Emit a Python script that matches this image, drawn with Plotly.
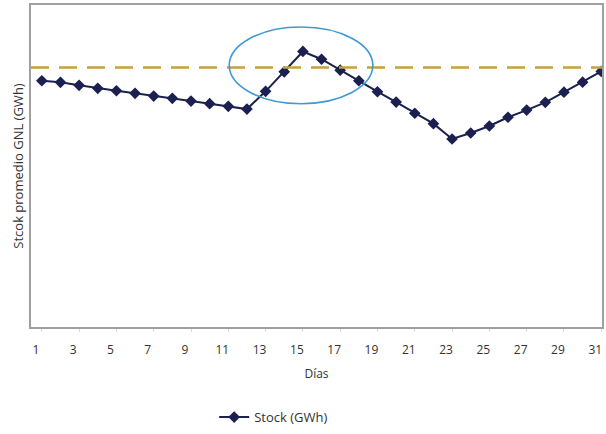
import plotly.graph_objects as go

# Daily average LNG stock over one month
dias = list(range(1, 32))
stock_gwh = [1235, 1227, 1212, 1197, 1185, 1172, 1158, 1147, 1133, 1120, 1107,
             1093, 1182, 1280, 1382, 1343, 1288, 1235, 1180, 1128, 1072, 1020,
             943, 973, 1008, 1052, 1088, 1127, 1178, 1228, 1282]
umbral_gwh = 1302
tick_dias = list(range(1, 32, 2))
tick_text = [str(d) for d in tick_dias]

# Highlighted zone around the peak
zona_x = (11.05, 18.75)
zona_y = (1120, 1505)

fig = go.Figure()
fig.add_trace(go.Scatter(
    x=dias, y=stock_gwh, mode="lines+markers", name="Stock (GWh)",
    line=dict(color="#1b2050", width=2),
    marker=dict(symbol="diamond", size=9, color="#1b2050"),
))

fig.add_shape(type="line", xref="paper", x0=0, x1=1, yref="y",
              y0=umbral_gwh, y1=umbral_gwh,
              line=dict(color="#c8a03c", width=2.5, dash="18px,10px"))
fig.add_shape(type="circle", xref="x", yref="y",
              x0=zona_x[0], x1=zona_x[1], y0=zona_y[0], y1=zona_y[1],
              line=dict(color="#3d9ad6", width=1.6))

fig.update_layout(
    width=606, height=434,
    margin=dict(l=31, r=2, t=5, b=106),
    paper_bgcolor="white", plot_bgcolor="white",
    font=dict(family="Open Sans", size=12, color="#333"),
    showlegend=True,
    legend=dict(orientation="h", x=0.425, xanchor="center", y=-0.28,
                yanchor="middle", font=dict(size=13)),
    xaxis=dict(range=[0.42, 31.04], tickmode="array", tickvals=tick_dias,
               ticktext=tick_text, showgrid=False, zeroline=False,
               showline=True, linecolor="#a0a0a0", mirror=True, linewidth=1.5,
               ticks="outside", ticklen=3, tickcolor="#d8d8d8",
               ticklabelshift=-6, ticklabelstandoff=8,
               ticklabeloverflow="allow",
               title=dict(text="Días", standoff=12, font=dict(size=12))),
    yaxis=dict(range=[0, 1615], showticklabels=False, showgrid=False,
               zeroline=False, showline=True, linecolor="#a0a0a0",
               mirror=True, linewidth=1.5, ticks="",
               title=dict(text="Stcok promedio GNL (GWh)", standoff=3,
                          font=dict(size=13))),
)

fig.write_html("out.html")
